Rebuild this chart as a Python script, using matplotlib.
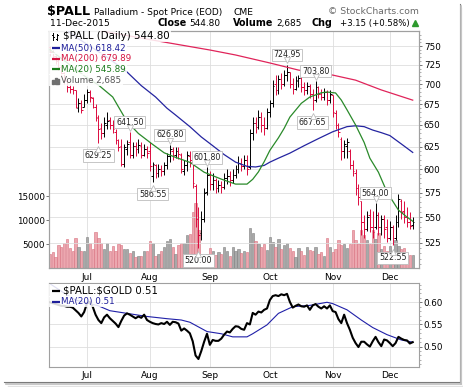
import matplotlib
matplotlib.use('Agg')
import matplotlib.pyplot as plt
import numpy as np
from matplotlib.ticker import FixedLocator, FixedFormatter, NullFormatter
from matplotlib.transforms import offset_copy
from matplotlib.patches import Rectangle

plt.rcParams['font.family'] = ['DejaVu Sans']

# ---------------- data (trading-day index 0 = 12-Jun-2015 ... 127 = 11-Dec-2015) -------------
month_labels = ['Jul', 'Aug', 'Sep', 'Oct', 'Nov', 'Dec']
month_idx = [13, 35, 56, 77, 99, 119]

opens = [748, 742, 736, 730, 722, 714, 704, 696, 694, 692,
         670, 676, 672, 680, 690, 682, 672, 658, 646, 640,
         650, 656, 650, 642, 632, 626, 606, 622, 630, 616,
         626, 622, 626, 615, 622, 620, 592, 604, 596, 600,
         598, 604, 614, 620, 616, 620, 616, 598, 604, 614,
         608, 582, 548, 534, 548, 576, 594, 584, 588, 580,
         583, 581, 590, 593, 588, 594, 600, 606, 603, 610,
         602, 640, 652, 648, 660, 650, 646, 665, 676, 700,
         692, 706, 700, 712, 716, 700, 694, 704, 708, 696,
         692, 698, 688, 680, 696, 688, 684, 690, 680, 686,
         664, 650, 634, 620, 626, 620, 604, 596, 580, 566,
         545, 538, 552, 540, 540, 552, 540, 548, 540, 530,
         540, 530, 545, 566, 556, 550, 545, 542]
highs = [750, 745, 738, 732, 724, 716, 706, 700, 698, 693,
         682, 680, 688, 694, 692, 684, 675, 662, 652, 660,
         666, 660, 656, 645, 634, 634, 628, 632, 641.5, 630,
         630, 634, 630, 628, 626, 630, 608, 606, 606, 605,
         608, 618, 626.8, 624, 625, 624, 618, 610, 620, 620,
         614, 584, 560, 556, 580, 601.8, 598, 596, 590, 588,
         587, 596, 600, 598, 600, 605, 614, 612, 616, 616,
         645, 660, 660, 668, 665, 660, 670, 680, 705, 712,
         712, 714, 718, 724.95, 716, 708, 710, 712, 710, 702,
         703, 700, 694, 703.8, 698, 694, 695, 692, 692, 686,
         668, 652, 636, 632, 635, 622, 610, 600, 584, 566,
         552, 556, 558, 556, 564, 555, 552, 552, 548, 546,
         542, 552, 574, 568, 566, 560, 555, 550]
lows = [736, 732, 726, 718, 710, 700, 690, 689, 688, 670,
        665, 664, 672, 676, 678, 670, 655, 629.25, 634, 636,
        645, 645, 640, 628, 620, 603, 602, 615, 612, 612,
        614, 618, 612, 614, 612, 598, 586.55, 590, 591, 592,
        594, 600, 608, 610, 612, 611, 596, 594, 598, 602,
        580, 540, 520, 528, 545, 572, 578, 578, 575, 576,
        575, 579, 584, 582, 585, 590, 596, 598, 600, 594,
        600, 632, 640, 645, 642, 638, 645, 660, 672, 686,
        688, 694, 698, 704, 695, 688, 692, 696, 690, 686,
        688, 682, 667.65, 678, 682, 680, 680, 674, 676, 660,
        645, 636, 610, 612, 612, 600, 592, 572, 562, 532,
        530, 536, 535, 530, 538, 532, 532, 530, 526, 528,
        522.55, 528, 540, 548, 544, 540, 538, 538]
closes = [742, 736, 730, 722, 714, 705, 696, 694, 692, 672,
          676, 668, 680, 690, 684, 672, 660, 645, 640, 652,
          655, 650, 645, 632, 625, 606, 624, 628, 616, 626,
          622, 627, 615, 622, 618, 603, 606, 596, 600, 598,
          604, 614, 622, 616, 620, 617, 600, 604, 615, 610,
          585, 548, 532, 548, 575, 594, 584, 588, 580, 583,
          581, 590, 593, 588, 594, 600, 607, 603, 610, 600,
          640, 652, 648, 660, 650, 646, 665, 676, 698, 692,
          706, 700, 712, 716, 700, 694, 705, 708, 696, 692,
          698, 688, 680, 696, 688, 684, 690, 680, 688, 665,
          650, 642, 620, 628, 630, 605, 598, 580, 570, 545,
          538, 550, 540, 535, 552, 540, 548, 538, 530, 540,
          530, 545, 568, 555, 550, 545, 541.65, 544.80]
volumes = [2900, 3400, 2300, 4800, 4400, 5300, 6000, 4100, 3600, 6200,
           4400, 3600, 3600, 6400, 5300, 4000, 7400, 6300, 5300, 4000,
           5300, 3600, 4600, 3600, 5000, 4800, 4000, 3900, 3200, 3600,
           2200, 2600, 2400, 3600, 3600, 5600, 5300, 2600, 2900, 3600,
           4400, 5600, 6000, 4400, 2900, 4800, 5300, 5300, 6800, 7000,
           11700, 13600, 7900, 2500, 2200, 3000, 4100, 3600, 2700, 3300,
           2900, 4400, 3600, 2600, 4400, 3600, 4000, 3100, 3600, 3300,
           8300, 7200, 5600, 5000, 4400, 5000, 3800, 6500, 5400, 4400,
           6100, 4000, 4700, 5200, 4200, 3500, 2300, 4200, 3500, 2800,
           4400, 3700, 3500, 4400, 3000, 3400, 2600, 6200, 4400, 3300,
           4000, 5800, 4800, 5100, 4200, 5100, 7900, 5800, 5100, 7900,
           6900, 5800, 5100, 7900, 6000, 7200, 4000, 4600, 3500, 4600,
           3000, 5800, 4500, 4000, 4200, 3200, 2800, 2685]

ma20_idx = [0, 8, 13, 17, 22, 27, 31, 36, 40, 44, 49, 54, 60, 65, 69, 71, 73, 75, 77,
            80, 82, 84, 88, 91, 95, 97, 100, 102, 104, 107, 110, 112, 115, 118, 122, 125, 127]
ma20_vals = [745, 722, 708, 698.8, 683.8, 654, 640, 627.4, 618, 612.9, 607.4, 596.6, 589.2,
             583.9, 583.9, 589, 597, 608, 620.7, 635, 646, 659.3, 676, 683.8, 689, 690,
             688.8, 680, 668.1, 650, 629.7, 612, 596.6, 575.5, 557, 550, 545.89]
ma50_idx = [0, 10, 20, 27, 32, 37, 41, 44, 49, 53, 57, 61, 65, 69, 72, 75, 77, 80, 84, 89,
            94, 99, 104, 107, 110, 113, 116, 119, 123, 127]
ma50_vals = [790, 760, 735, 715.5, 698, 683.8, 670, 661.8, 648, 636, 626, 616, 607.6, 603,
             602.3, 604, 607.6, 612, 617.6, 626, 634.1, 642, 648, 649, 648, 644, 641, 637.6,
             628, 618.42]
ma200_idx = [0, 10, 18, 42, 56, 65, 77, 87, 99, 107, 116, 127]
ma200_vals = [800, 783, 770.7, 754, 744.6, 737.9, 727.3, 718, 711.5, 705, 692.6, 679.89]

ratio = [0.600, 0.598, 0.596, 0.594, 0.592, 0.592, 0.590, 0.590, 0.588, 0.582,
         0.576, 0.568, 0.578, 0.598, 0.601, 0.590, 0.572, 0.560, 0.553, 0.566,
         0.572, 0.564, 0.558, 0.552, 0.544, 0.558, 0.570, 0.575, 0.572, 0.568,
         0.564, 0.568, 0.565, 0.572, 0.560, 0.556, 0.553, 0.551, 0.550, 0.553,
         0.551, 0.556, 0.549, 0.556, 0.555, 0.552, 0.536, 0.541, 0.536, 0.530,
         0.512, 0.480, 0.472, 0.490, 0.511, 0.529, 0.504, 0.515, 0.513, 0.513,
         0.518, 0.527, 0.534, 0.532, 0.540, 0.546, 0.545, 0.540, 0.538, 0.553,
         0.550, 0.576, 0.572, 0.579, 0.577, 0.583, 0.586, 0.605, 0.614, 0.616,
         0.614, 0.618, 0.616, 0.619, 0.601, 0.588, 0.592, 0.595, 0.591, 0.590,
         0.593, 0.583, 0.593, 0.596, 0.590, 0.586, 0.591, 0.586, 0.593, 0.580,
         0.578, 0.562, 0.553, 0.572, 0.553, 0.538, 0.520, 0.508, 0.499, 0.511,
         0.511, 0.505, 0.500, 0.512, 0.522, 0.510, 0.501, 0.516, 0.514, 0.508,
         0.501, 0.508, 0.522, 0.518, 0.515, 0.514, 0.507, 0.510]
rma_idx = [0, 4, 9, 17, 21, 27, 34, 41, 46, 49, 55, 60, 64, 69, 71, 76, 80, 85, 91, 97,
           99, 104, 109, 113, 118, 123, 127]
rma_vals = [0.642, 0.625, 0.605, 0.592, 0.581, 0.575, 0.568, 0.563, 0.560, 0.555, 0.534,
            0.529, 0.522, 0.522, 0.529, 0.549, 0.575, 0.590, 0.593, 0.600, 0.597, 0.583,
            0.560, 0.543, 0.527, 0.515, 0.510]

annotations = [(17, 629.25, 'low'), (28, 641.50, 'high'), (36, 586.55, 'low'),
               (42, 626.80, 'high'), (52, 520.00, 'low'), (55, 601.80, 'high'),
               (83, 724.95, 'high'), (92, 667.65, 'low'), (93, 703.80, 'high'),
               (114, 564.00, 'high'), (120, 522.55, 'low')]

price_ticks = [525, 550, 575, 600, 625, 650, 675, 700, 725, 750]
vol_ticks = [5000, 10000, 15000]
ratio_ticks = [0.50, 0.55, 0.60]

# ---------------- figure ----------------
W, H, DPI = 464, 387, 100
fig = plt.figure(figsize=(W / DPI, H / DPI), dpi=DPI)
fig.patch.set_facecolor('white')


def rect(x0, y0, x1, y1):
    return [x0 / W, 1 - y1 / H, (x1 - x0) / W, (y1 - y0) / H]


SPINE = '#A0A0A0'
GRID = '#DEDEDE'
RED = '#DC0B3E'
XLIM = (-0.3, 129.2)

idx = np.arange(len(closes))
o = np.array(opens); h = np.array(highs); l = np.array(lows); c = np.array(closes)
prev = np.concatenate([[o[0]], c[:-1]])
up = c >= prev
bar_col = np.where(up, '#000000', RED)
vol_face = np.where(up, '#A9A9A9', '#ECA7AF')
vol_edge = np.where(up, '#808080', '#D8707E')

# main panel: volume (primary, left) + price (twin, right, log)
axv = fig.add_axes(rect(49, 31, 419, 268))
axv.bar(idx, volumes, width=0.8, color=vol_face, edgecolor=vol_edge, linewidth=0.4, zorder=2)
axv.set_xlim(*XLIM)
axv.set_ylim(0, 49375)
axv.set_axisbelow(True)
axv.xaxis.set_major_locator(FixedLocator(month_idx))
axv.xaxis.set_major_formatter(FixedFormatter(month_labels))
axv.grid(axis='x', color=GRID, lw=0.6)
axv.set_yticks(vol_ticks)
axv.set_yticklabels([str(v) for v in vol_ticks])
axv.tick_params(axis='y', length=2, width=0.6, color='#606060', pad=1.2, labelsize=6.3)
axv.tick_params(axis='x', length=0, pad=3.3, labelsize=6.5)
for s in axv.spines.values():
    s.set_color(SPINE); s.set_linewidth(0.8)

axp = axv.twinx()
axp.set_yscale('log')
axp.set_ylim(501.5, 770.7)
axp.set_xlim(*XLIM)
axp.grid(axis='y', which='major', color=GRID, lw=0.6, zorder=0)
axp.vlines(idx, l, h, colors=bar_col, lw=0.7, zorder=3)
axp.hlines(o, idx - 0.6, idx, colors=bar_col, lw=0.7, zorder=3)
axp.hlines(c, idx, idx + 0.6, colors=bar_col, lw=0.7, zorder=3)
axp.plot(ma200_idx, ma200_vals, color='#E0245A', lw=0.9, zorder=4)
axp.plot(ma50_idx, ma50_vals, color='#2424A0', lw=0.9, zorder=4)
axp.plot(ma20_idx, ma20_vals, color='#2A8A2A', lw=0.9, zorder=4)
axp.yaxis.set_major_locator(FixedLocator(price_ticks))
axp.yaxis.set_major_formatter(FixedFormatter([str(t) for t in price_ticks]))
axp.yaxis.set_minor_locator(FixedLocator(list(range(505, 770, 5))))
axp.yaxis.set_minor_formatter(NullFormatter())
axp.tick_params(axis='y', which='major', length=2.5, width=0.6, color='#606060', pad=1, labelsize=6.3)
axp.tick_params(axis='y', which='minor', length=1.2, width=0.5, color='#909090')
for s in axp.spines.values():
    s.set_color(SPINE); s.set_linewidth(0.8)

for i, p, kind in annotations:
    dy = 10 if kind == 'high' else -12.5
    axp.annotate(f'{p:.2f}', xy=(i, p), xytext=(0, dy), textcoords='offset pixels',
                 ha='center', va='center', fontsize=5.7, color='#202020', zorder=8,
                 bbox=dict(boxstyle='square,pad=0.22', fc='white', ec='#BDBDBD', lw=0.6),
                 annotation_clip=False)
    tr = offset_copy(axp.transData, fig=fig, x=0, y=(4.3 if kind == 'high' else -6.3), units='dots')
    axp.plot([i], [p], marker=('v' if kind == 'high' else '^'), ms=4, mfc='white',
             mec='#BDBDBD', mew=0.6, transform=tr, zorder=9, clip_on=False)

# lower panel: ratio
axr = fig.add_axes(rect(49, 283, 419, 367))
axr.plot(idx, ratio, color='black', lw=1.5, zorder=3, solid_joinstyle='round')
axr.plot(rma_idx, rma_vals, color='#2020A8', lw=0.8, zorder=2)
axr.set_xlim(*XLIM)
axr.set_ylim(0.454, 0.6435)
axr.yaxis.tick_right()
axr.set_yticks(ratio_ticks)
axr.set_yticklabels([f'{t:.2f}' for t in ratio_ticks])
axr.yaxis.set_minor_locator(FixedLocator([0.46, 0.47, 0.48, 0.49, 0.51, 0.52, 0.53, 0.54,
                                          0.56, 0.57, 0.58, 0.59, 0.61, 0.62, 0.63, 0.64]))
axr.xaxis.set_major_locator(FixedLocator(month_idx))
axr.xaxis.set_major_formatter(FixedFormatter(month_labels))
axr.grid(color=GRID, lw=0.6)
axr.set_axisbelow(True)
axr.tick_params(axis='y', which='major', length=2.5, width=0.6, color='#606060', pad=1, labelsize=6.3)
axr.tick_params(axis='y', which='minor', length=1.2, width=0.5, color='#909090')
axr.tick_params(axis='x', length=0, pad=3.0, labelsize=6.5)
for s in axr.spines.values():
    s.set_color(SPINE); s.set_linewidth(0.8)

# overlay for titles/legends in pixel coordinates
ov = fig.add_axes([0, 0, 1, 1])
ov.set_xlim(0, W); ov.set_ylim(H, 0)
ov.axis('off'); ov.patch.set_visible(False)
ov.set_zorder(30)

ov.text(47, 15, r'\$PALL', fontsize=9.2, fontweight='bold', va='baseline', ha='left')
ov.text(94, 15, 'Palladium - Spot Price (EOD)', fontsize=6.5, va='baseline', ha='left')
ov.text(234, 15, 'CME', fontsize=6.6, va='baseline', ha='left')
ov.text(419, 14, '\u00a9 StockCharts.com', fontsize=6.7, color='#6A6A6A', va='baseline', ha='right')
ov.text(50, 26, '11-Dec-2015', fontsize=6.7, va='baseline', ha='left')
ov.text(158, 26, 'Close', fontsize=6.9, fontweight='bold', va='baseline', ha='left')
ov.text(189, 26, '544.80', fontsize=6.4, va='baseline', ha='left')
ov.text(233, 26, 'Volume', fontsize=6.9, fontweight='bold', va='baseline', ha='left')
ov.text(276, 26, '2,685', fontsize=6.4, va='baseline', ha='left')
ov.text(312, 26, 'Chg', fontsize=6.9, fontweight='bold', va='baseline', ha='left')
ov.text(409.5, 26, '+3.15 (+0.58%)', fontsize=6.1, va='baseline', ha='right')
ov.plot([415.5], [22.8], marker='^', ms=3.8, color='#2E9A2E', mec='#2E9A2E')

BB = dict(boxstyle='square,pad=0.12', fc='white', ec='none', alpha=0.85)
ov.text(50.5, 36, r'    \$PALL (Daily) 544.80', fontsize=7.4, va='center', ha='left', bbox=BB)
# bar icon
ov.plot([53, 53], [32.5, 39.5], color='black', lw=0.7, zorder=5)
ov.plot([51.8, 53], [34.5, 34.5], color='black', lw=0.7, zorder=5)
ov.plot([53, 54.2], [37, 37], color='black', lw=0.7, zorder=5)
ov.plot([57, 57], [33.5, 40], color='black', lw=0.7, zorder=5)
ov.plot([55.8, 57], [38.5, 38.5], color='black', lw=0.7, zorder=5)
ov.plot([57, 58.2], [35, 35], color='black', lw=0.7, zorder=5)

rows = [(48, '    MA(50) 618.42', '#1E1E9A'),
        (58.5, '    MA(200) 679.89', '#D4123F'),
        (69.2, '    MA(20) 545.89', '#1A7A1A')]
for y, s, col in rows:
    ov.text(50.5, y, s, fontsize=6.3, color=col, va='center', ha='left', bbox=BB)
    ov.plot([52, 60], [y, y], color=col, lw=1.6, solid_capstyle='butt', zorder=5)
ov.text(50.5, 80, '    Volume 2,685', fontsize=6.3, color='#555555', va='center', ha='left', bbox=BB)
for x0, hh in [(52.5, 3.5), (54.8, 6), (57.1, 4.5)]:
    ov.add_patch(Rectangle((x0, 83.5 - hh), 1.8, hh, color='#707070', zorder=5))

ov.text(50.5, 290.7, r'    \$PALL:\$GOLD 0.51', fontsize=7.3, color='black', va='center', ha='left', bbox=BB)
ov.plot([52, 60], [290.7, 290.7], color='black', lw=1.6, solid_capstyle='butt', zorder=5)
ov.text(50.5, 301.7, '    MA(20) 0.51', fontsize=6.3, color='#1E1E9A', va='center', ha='left', bbox=BB)
ov.plot([52, 60], [301.7, 301.7], color='#1E1E9A', lw=1.6, solid_capstyle='butt', zorder=5)

# frame shadow
ov.plot([460, 460], [4, 382], color='#7A7A7A', lw=0.8)
ov.plot([4, 460], [382, 382], color='#7A7A7A', lw=0.8)
ov.plot([461.5, 461.5], [6, 384], color='#BDBDBD', lw=1.2)
ov.plot([6, 461.5], [383.5, 383.5], color='#BDBDBD', lw=1.2)
ov.plot([463, 463], [8, 386], color='#E2E2E2', lw=1.0)
ov.plot([8, 463], [385.5, 385.5], color='#E2E2E2', lw=1.0)

fig.savefig('out.png', dpi=DPI)
